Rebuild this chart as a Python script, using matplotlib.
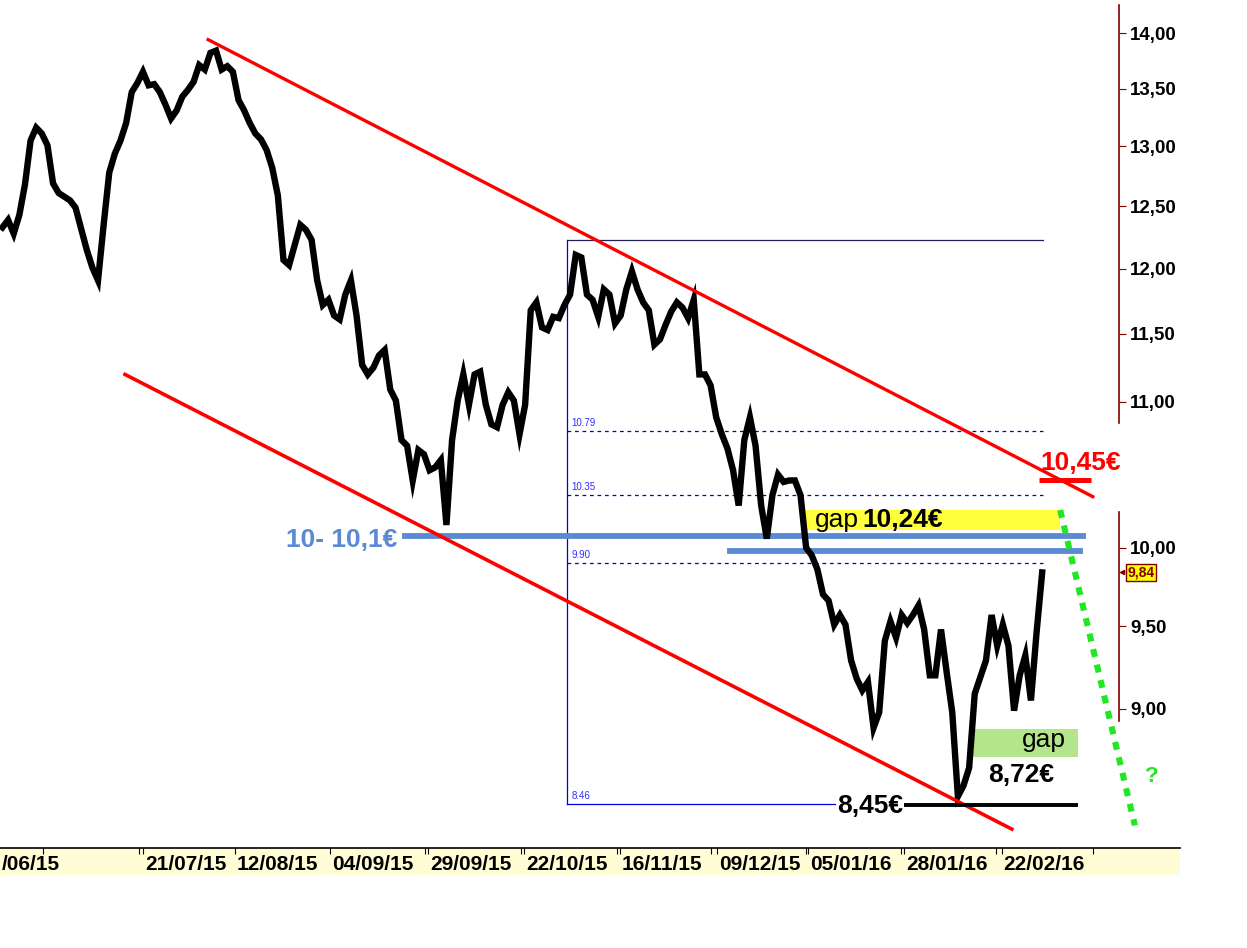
import matplotlib.pyplot as plt
from matplotlib.patches import Rectangle
from matplotlib.lines import Line2D
from matplotlib.ticker import FixedLocator, NullLocator, FixedFormatter

plt.rcParams['font.family'] = ['Liberation Sans', 'DejaVu Sans']

# daily closes, one per session (session 0 = 21/07/15)
first_session = -25
closes = [12.33, 12.39, 12.28, 12.43, 12.68, 13.05, 13.16, 13.11, 13.01, 12.69,
          12.61, 12.58, 12.55, 12.49, 12.32, 12.15, 12.01, 11.91, 12.35, 12.78,
          12.94, 13.05, 13.20, 13.47, 13.55,
          13.65, 13.53, 13.54, 13.47, 13.36, 13.24, 13.31, 13.43, 13.49, 13.56,
          13.71, 13.67, 13.82, 13.84, 13.67, 13.70, 13.65, 13.40, 13.31, 13.20,
          13.11, 13.06, 12.97, 12.82, 12.59, 12.07, 12.03, 12.19, 12.35, 12.31,
          12.23, 11.91, 11.72, 11.76, 11.64, 11.61, 11.80, 11.91, 11.64, 11.27,
          11.20, 11.25, 11.34, 11.38, 11.09, 11.01, 10.73, 10.69, 10.45, 10.66,
          10.63, 10.52, 10.54, 10.59, 10.15, 10.73, 11.01, 11.20, 10.98, 11.20,
          11.22, 10.98, 10.84, 10.82, 10.98, 11.07, 11.01, 10.77, 10.98, 11.68,
          11.74, 11.55, 11.53, 11.63, 11.62, 11.72, 11.80, 12.11, 12.09, 11.80,
          11.76, 11.63, 11.84, 11.80, 11.58, 11.64, 11.84, 11.98, 11.84, 11.74,
          11.68, 11.42, 11.46, 11.57, 11.67, 11.74, 11.70, 11.62, 11.76, 11.20,
          11.20, 11.12, 10.89, 10.77, 10.67, 10.52, 10.28, 10.73, 10.89, 10.69,
          10.28, 10.06, 10.35, 10.49, 10.44, 10.45, 10.45, 10.35, 10.00, 9.95,
          9.86, 9.70, 9.66, 9.51, 9.57, 9.51, 9.29, 9.18, 9.11, 9.16,
          8.89, 8.98, 9.41, 9.53, 9.43, 9.57, 9.52, 9.57, 9.63, 9.48,
          9.20, 9.20, 9.48, 9.22, 8.98, 8.50, 8.56, 8.66, 9.09, 9.19,
          9.29, 9.57, 9.38, 9.51, 9.38, 8.99, 9.20, 9.32, 9.05, 9.46, 9.84]
sessions = list(range(first_session, first_session + len(closes)))
last_price = 9.84

# axes
date_labels = ['/06/15', '21/07/15', '12/08/15', '04/09/15', '29/09/15', '22/10/15',
               '16/11/15', '09/12/15', '05/01/16', '28/01/16', '22/02/16']
date_sessions = [-25.44, 0, 16.3, 33.3, 50.7, 67.8, 84.8, 102.1, 118.3, 135.5, 152.8]
extra_ticks = [-17.7, -0.7, 50.2, 67.3, 84.3, 101.1, 118.0, 134.9, 151.8, 169.0]
price_ticks = [9.0, 9.5, 10.0, 11.0, 11.5, 12.0, 12.5, 13.0, 13.5, 14.0]
price_labels = ['9,00', '9,50', '10,00', '11,00', '11,50', '12,00', '12,50',
                '13,00', '13,50', '14,00']

# drawings
upper_channel = ([11.6, 169.0], [13.94, 10.34])
lower_channel = ([-3.2, 154.6], [11.20, 8.32])
support_high = ([46.6, 167.3], [10.08, 10.08])
support_low = ([104.4, 166.7], [9.98, 9.98])
fib_x = (75.4, 160.1)
fib_low, fib_high = 8.46, 12.23
fib_levels = [10.79, 10.35, 9.90]
target_line = ([159.4, 168.7], [10.45, 10.45])
low_line = ([135.2, 166.4], [8.45, 8.45])
gap_up = (117.3, 163.2, 10.12, 10.25)
gap_down = (147.0, 166.4, 8.72, 8.88)
forecast = ([163.2, 176.5], [10.25, 8.34])

fig = plt.figure(figsize=(12.47, 9.48), dpi=100)
ax = fig.add_axes([0, 100 / 948, 1119 / 1247, 848 / 948])
ax.set_yscale('log')
ax.set_xlim(-25.44, 173.67)
ax.set_ylim(8.218, 14.306)

# date band at the bottom
fig.patches.append(Rectangle((0, 73 / 948), 1180 / 1247, 27 / 948, transform=fig.transFigure,
                             facecolor='#FFFDD5', edgecolor='none', zorder=-1))
fig.lines.append(Line2D([0, 1180 / 1247], [100 / 948, 100 / 948], transform=fig.transFigure,
                        color='black', lw=1.2))

for s in ['top', 'left', 'right', 'bottom']:
    ax.spines[s].set_visible(False)

ax.set_xticks(date_sessions[1:] + extra_ticks)
ax.tick_params(axis='x', direction='out', length=4, color='black', labelbottom=False)
for lab, pos in zip(date_labels, date_sessions):
    ax.text(pos + 0.35, -0.019, lab, transform=ax.get_xaxis_transform(), ha='left',
            va='center', fontsize=15, fontweight='bold', clip_on=False)

ax.yaxis.tick_right()
ax.yaxis.set_major_locator(FixedLocator(price_ticks))
ax.yaxis.set_major_formatter(FixedFormatter(price_labels))
ax.yaxis.set_minor_locator(NullLocator())
ax.tick_params(axis='y', direction='out', length=5, color='#800000', pad=3, labelsize=13.5)
for t in ax.get_yticklabels():
    t.set_fontweight('bold')

# split price axis line (gap behind the 10,45 label)
yt = ax.get_yaxis_transform()
ax.plot([1, 1], [8.93, 10.24], color='#800000', lw=1.2, transform=yt, clip_on=False)
ax.plot([1, 1], [10.85, 14.26], color='#800000', lw=1.2, transform=yt, clip_on=False)

# fibonacci box
fb = '#0000DD'
ax.plot([fib_x[0], fib_x[0]], [fib_low, fib_high], color=fb, lw=0.9)
ax.plot(fib_x, [fib_high, fib_high], color='#202060', lw=0.9)
ax.plot(fib_x, [fib_low, fib_low], color=fb, lw=0.9)
for lvl in fib_levels:
    ax.plot(fib_x, [lvl, lvl], color=fb, lw=0.9, ls=(0, (3, 3)))
for lvl in fib_levels + [fib_low]:
    ax.text(fib_x[0] + 0.9, lvl * 1.002, f'{lvl:.2f}', fontsize=7, color='#3030FF',
            ha='left', va='bottom')

# gaps
ax.add_patch(Rectangle((gap_up[0], gap_up[2]), gap_up[1] - gap_up[0], gap_up[3] - gap_up[2],
                       facecolor='#FFFF3C', edgecolor='none', zorder=1))
ax.add_patch(Rectangle((gap_down[0], gap_down[2]), gap_down[1] - gap_down[0],
                       gap_down[3] - gap_down[2], facecolor='#B4E48C', edgecolor='none', zorder=1))

# supports
ax.plot(*support_high, color='#5A8AD2', lw=4.2, zorder=2)
ax.plot(*support_low, color='#5A8AD2', lw=4.2, zorder=2)

# price
ax.plot(sessions, closes, color='black', lw=4.6, zorder=3, solid_joinstyle='miter')

# channel
ax.plot(*upper_channel, color='#FF0000', lw=2.4, zorder=4)
ax.plot(*lower_channel, color='#FF0000', lw=2.6, zorder=4)

ax.plot(*target_line, color='#FF0000', lw=3.6, zorder=5, solid_capstyle='butt')
ax.plot(*low_line, color='black', lw=2.8, zorder=5, solid_capstyle='butt')
ax.plot(*forecast, color='#22E622', lw=4.4, ls=(0, (1.3, 1.3)), zorder=5, clip_on=False)

# labels
big = 19
ax.text(45.2, 10.05, '10- 10,1€', color='#5A8AD2', fontsize=big, fontweight='bold',
        ha='right', va='center', zorder=6)
ax.text(159.6, 10.52, '10,45€', color='#FF0000', fontsize=big, fontweight='bold',
        ha='left', va='baseline', zorder=6, clip_on=False)
ax.text(119.6, 10.14, 'gap', fontsize=big, ha='left', va='baseline', zorder=6)
ax.text(128.0, 10.14, '10,24€', fontsize=big, fontweight='bold', ha='left', va='baseline',
        zorder=6)
ax.text(164.2, 8.78, 'gap', fontsize=big, ha='right', va='baseline', zorder=6)
ax.text(150.4, 8.58, '8,72€', fontsize=big, fontweight='bold', ha='left', va='baseline',
        zorder=6)
ax.text(135.2, 8.41, '8,45€', fontsize=big, fontweight='bold', ha='right', va='baseline',
        zorder=6, bbox=dict(facecolor='white', edgecolor='none', pad=0.5))
ax.text(179.5, 8.61, '?', color='#22E622', fontsize=16, fontweight='bold', ha='center',
        va='center', clip_on=False)

# last price tag
ax.text(1.0075, last_price, f'{last_price:.2f}'.replace('.', ','), transform=yt,
        fontsize=10, fontweight='bold', color='#800000', ha='left', va='center',
        bbox=dict(boxstyle='square,pad=0.12', facecolor='#FFFF00', edgecolor='#800000', lw=1),
        clip_on=False)
ax.plot([1.0027], [last_price], marker='<', markersize=3, color='#800000', transform=yt,
        clip_on=False)

fig.savefig('out.png', dpi=100)
